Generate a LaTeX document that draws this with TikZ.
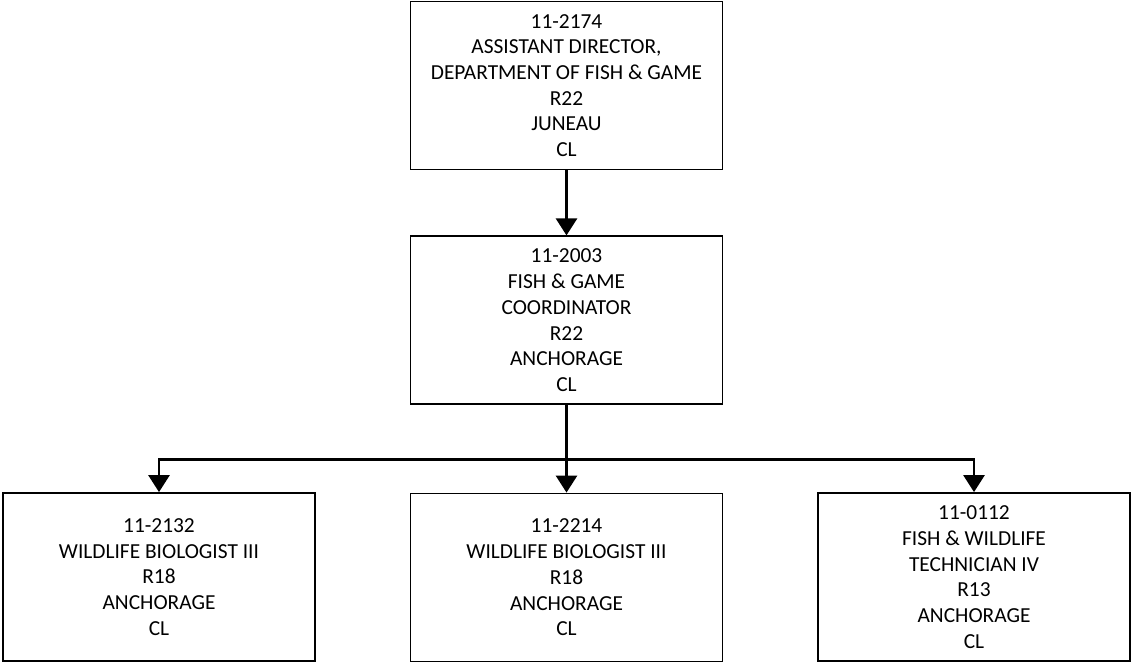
\documentclass[tikz,border=0pt]{standalone}
\usepackage{fontspec}
\setmainfont{Carlito}
\usetikzlibrary{arrows.meta}

\begin{document}
\begin{tikzpicture}[x=1pt, y=-1pt,
  post/.style={rectangle, draw, line width=1.8pt, minimum width=312pt, minimum height=168pt,
    align=center, inner sep=0pt, font=\fontsize{21.4}{25.7}\selectfont},
  link/.style={line width=2.7pt, -{Triangle[width=21pt, length=17pt]}}]
  \useasboundingbox (0, 0) rectangle (1131, 664);

  \node[post] (dir) at (566.5, 85.5) {11-2174\\ASSISTANT DIRECTOR,\\DEPARTMENT OF FISH \& GAME\\R22\\JUNEAU\\CL};
  \node[post] (coord) at (566.5, 320.3) {11-2003\\FISH \& GAME\\COORDINATOR\\R22\\ANCHORAGE\\CL};
  \node[post] (bio1) at (159, 577) {11-2132\\WILDLIFE BIOLOGIST III\\R18\\ANCHORAGE\\CL};
  \node[post] (bio2) at (566.5, 577.5) {11-2214\\WILDLIFE BIOLOGIST III\\R18\\ANCHORAGE\\CL};
  \node[post] (tech) at (974, 577) {11-0112\\FISH \& WILDLIFE\\TECHNICIAN IV\\R13\\ANCHORAGE\\CL};
  \coordinate (bus) at (566.5, 459.3);

  \draw[link] (dir) -- (coord);
  \draw[link] (coord) -- (bio2);
  \draw[link] (bus) -| (bio1);
  \draw[link] (bus) -| (tech);
\end{tikzpicture}
\end{document}
